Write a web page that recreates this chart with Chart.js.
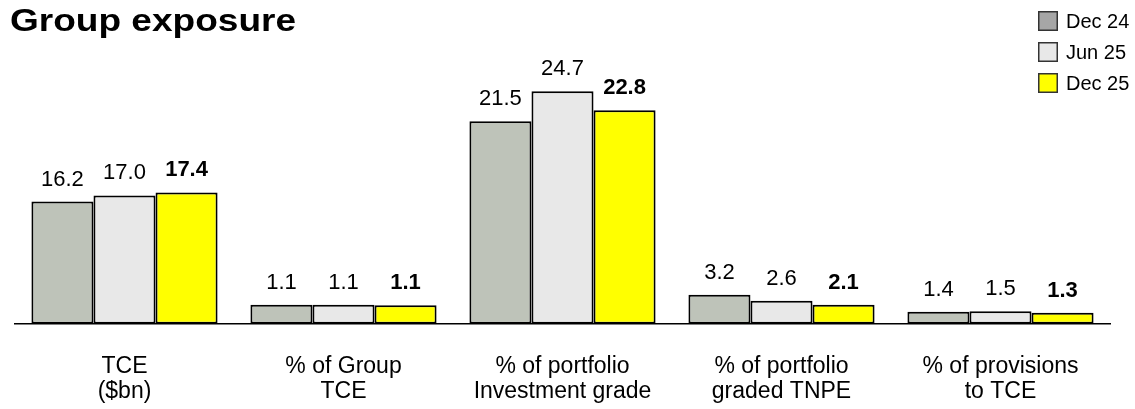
<!DOCTYPE html>
<html>
<head>
<meta charset="utf-8">
<script src="https://cdn.jsdelivr.net/npm/chart.js@4.4.1/dist/chart.umd.min.js"></script>
<style>
  html, body { margin: 0; padding: 0; background: #fff; }
  #wrap { width: 1135px; height: 409px; }
</style>
</head>
<body>
<div id="wrap"><canvas id="exposureChart" width="1135" height="409"></canvas></div>
<script>
// categories (two-line axis labels)
const categories = [
  ['TCE', '($bn)'],
  ['% of Group', 'TCE'],
  ['% of portfolio', 'Investment grade'],
  ['% of portfolio', 'graded TNPE'],
  ['% of provisions', 'to TCE']
];
const seriesNames = ['Dec 24', 'Jun 25', 'Dec 25'];

// printed values
const dec24 = [16.2, 1.1, 21.5, 3.2, 1.4];
const jun25 = [17.0, 1.1, 24.7, 2.6, 1.5];
const dec25 = [17.4, 1.1, 22.8, 2.1, 1.3];

// bar heights as drawn (each group has its own scale in the original slide)
const dec24Height = [122, 19, 202, 29, 12];
const jun25Height = [128, 19, 232, 23, 12.5];
const dec25Height = [131, 18.5, 213, 19, 11];

const barColors = ['#bec3b9', '#e8e8e8', '#ffff00'];
const legendColors = ['#a6a6a6', '#e8e8e8', '#ffff00'];
const FONT = 'Arial, "Liberation Sans", sans-serif';

const printed = [dec24, jun25, dec25];

// value labels above the bars, last series in bold
const valueLabels = {
  id: 'valueLabels',
  afterDatasetsDraw(chart) {
    const ctx = chart.ctx;
    ctx.save();
    ctx.fillStyle = '#000';
    ctx.textAlign = 'center';
    ctx.textBaseline = 'alphabetic';
    chart.data.datasets.forEach((ds, i) => {
      const meta = chart.getDatasetMeta(i);
      ctx.font = (i === 2 ? 'bold ' : '') + '22px ' + FONT;
      meta.data.forEach((bar, j) => {
        ctx.fillText(printed[i][j].toFixed(1), bar.x, bar.y - 16);
      });
    });
    ctx.restore();
  }
};

// title and stacked legend in the top corners
const headerAndLegend = {
  id: 'headerAndLegend',
  afterDraw(chart) {
    const ctx = chart.ctx;
    ctx.save();
    ctx.fillStyle = '#000';
    ctx.textAlign = 'left';
    ctx.textBaseline = 'alphabetic';
    // the slide title is set a little wider than Arial bold
    ctx.font = 'bold 32px ' + FONT;
    const w = ctx.measureText('Group exposure').width;
    ctx.save();
    ctx.translate(10, 31);
    ctx.scale(286 / w, 1);
    ctx.fillText('Group exposure', 0, 0);
    ctx.restore();

    ctx.font = '20px ' + FONT;
    seriesNames.forEach((name, i) => {
      const y = 11 + i * 31;
      ctx.fillStyle = legendColors[i];
      ctx.fillRect(1038, y, 20, 20);
      ctx.strokeStyle = '#333';
      ctx.lineWidth = 1.5;
      ctx.strokeRect(1038.75, y + 0.75, 18.5, 18.5);
      ctx.fillStyle = '#000';
      ctx.fillText(name, 1066, y + 17);
    });
    ctx.restore();
  }
};

new Chart(document.getElementById('exposureChart'), {
  type: 'bar',
  data: {
    labels: categories,
    datasets: [
      { label: seriesNames[0], data: dec24Height, backgroundColor: barColors[0] },
      { label: seriesNames[1], data: jun25Height, backgroundColor: barColors[1] },
      { label: seriesNames[2], data: dec25Height, backgroundColor: barColors[2] }
    ].map(ds => Object.assign(ds, {
      borderColor: '#000',
      borderWidth: 2,
      borderSkipped: false,
      categoryPercentage: 0.85,
      barPercentage: 1.0
    }))
  },
  options: {
    responsive: false,
    animation: false,
    layout: { padding: { left: 15, right: 25, top: 23, bottom: -25 } },
    plugins: {
      legend: { display: false },
      title: { display: false },
      tooltip: { enabled: false }
    },
    scales: {
      x: {
        grid: { display: false, drawTicks: false },
        border: { display: true, color: '#000', width: 1.5 },
        ticks: {
          color: '#000',
          padding: 30,
          font: { family: FONT, size: 23, lineHeight: 1.09 }
        }
      },
      y: {
        display: false,
        min: 0,
        max: 300
      }
    }
  },
  plugins: [valueLabels, headerAndLegend]
});
</script>
</body>
</html>
